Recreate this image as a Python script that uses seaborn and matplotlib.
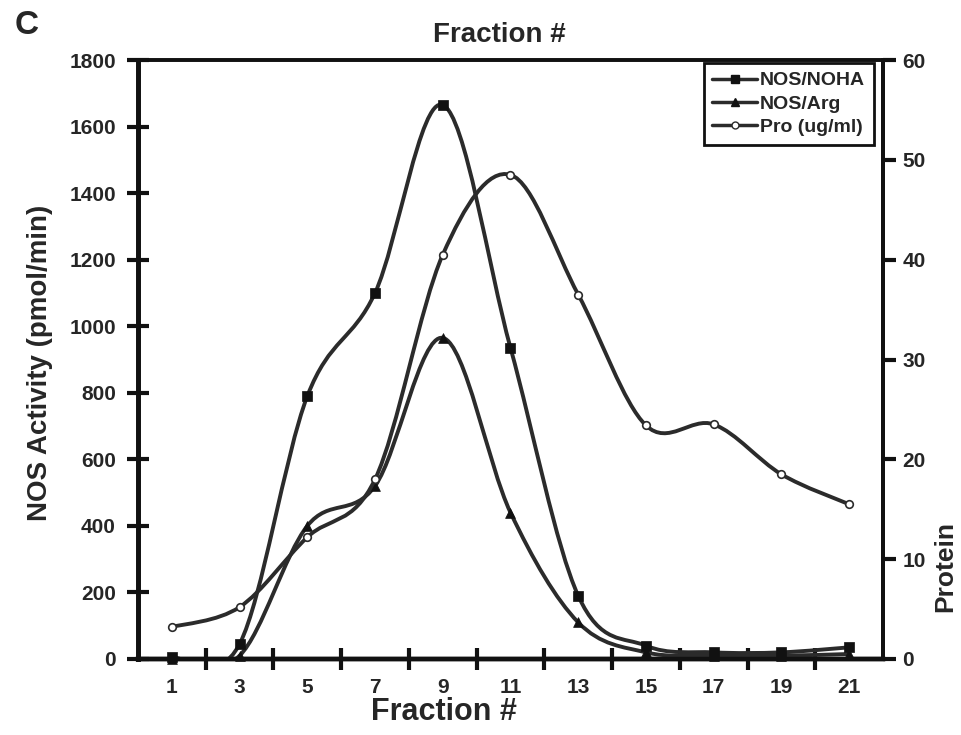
import numpy as np
import matplotlib
matplotlib.use('Agg')
import matplotlib.pyplot as plt
from matplotlib.path import Path
from matplotlib.patches import PathPatch
from matplotlib.lines import Line2D
import seaborn as sns

# data (fractions 1..21, odd only)
fractions = [1, 3, 5, 7, 9, 11, 13, 15, 17, 19, 21]
nos_noha = [5, 45, 790, 1100, 1665, 935, 190, 40, 20, 20, 35]
nos_arg = [0, 10, 400, 520, 965, 440, 110, 20, 10, 10, 15]
protein = [3.2, 5.2, 12.2, 18.0, 40.5, 48.5, 36.5, 23.4, 23.5, 18.5, 15.5]

sns.set_theme(style='ticks')
plt.rcParams['font.family'] = ['Liberation Sans', 'DejaVu Sans']
plt.rcParams['font.weight'] = 'bold'

line_col = '#2b2b2b'
mark_col = '#111111'


def smooth_path(x, y):
    # excel-style smoothed line: cubic bezier through the points
    pts = np.column_stack([x, y]).astype(float)
    n = len(pts)
    verts = [pts[0]]
    codes = [Path.MOVETO]
    for i in range(n - 1):
        p0 = pts[max(i - 1, 0)]
        p1 = pts[i]
        p2 = pts[i + 1]
        p3 = pts[min(i + 2, n - 1)]
        verts += [p1 + (p2 - p0) / 6.0, p2 - (p3 - p1) / 6.0, p2]
        codes += [Path.CURVE4] * 3
    return Path(verts, codes)


fig = plt.figure(figsize=(9.62, 7.35), dpi=100)
ax = fig.add_axes([138 / 962, 1 - 659 / 735, (883 - 138) / 962, (659 - 60) / 735])
ax2 = ax.twinx()

# NOS curves on left axis
for vals, mk in [(nos_noha, 's'), (nos_arg, '^')]:
    ax.add_patch(PathPatch(smooth_path(fractions, vals), fill=False,
                           edgecolor=line_col, lw=2.8, zorder=3))
    sns.scatterplot(x=fractions, y=vals, marker=mk, color=mark_col,
                    edgecolor=mark_col, s=50, linewidth=0.5, ax=ax, zorder=4,
                    legend=False, clip_on=False)

# protein on right axis
ax2.add_patch(PathPatch(smooth_path(fractions, protein), fill=False,
                        edgecolor=line_col, lw=2.8, zorder=3))
sns.scatterplot(x=fractions, y=protein, marker='o', color='white',
                edgecolor=line_col, s=30, linewidth=1.2, ax=ax2, zorder=4,
                legend=False)

ax.set_xlim(0, 22)
ax.set_ylim(0, 1800)
ax2.set_ylim(0, 60)

# x ticks: marks at even fractions, labels at odd ones
ax.set_xticks(range(2, 21, 2), labels=[''] * 10)
ax.set_xticks(fractions, labels=[str(f) for f in fractions], minor=True)
ax.tick_params(axis='x', which='major', direction='inout', length=16, width=3,
               color='#111')
ax.tick_params(axis='x', which='minor', length=0, pad=14, labelsize=15)
ax.set_yticks(range(0, 1801, 200))
ax.tick_params(axis='y', direction='inout', length=16, width=3, color='#111',
               labelsize=15, pad=8)
ax2.set_yticks(range(0, 61, 10))
ax2.tick_params(axis='y', direction='out', length=9, width=3, color='#111',
                labelsize=15, pad=5)

for a in (ax, ax2):
    for side, w in [('left', 3.4), ('bottom', 3.2), ('top', 2.6), ('right', 2.8)]:
        a.spines[side].set_linewidth(w)
        a.spines[side].set_color('#111')
        a.spines[side].set_visible(True)
ax.set_xlabel('')
ax.set_ylabel('')
ax2.set_ylabel('')

# texts
fig.text(27 / 962, 1 - 25 / 735, 'C', fontsize=24, ha='center', va='center')
fig.text(499 / 962, 1 - 35 / 735, 'Fraction #', fontsize=20, ha='center',
         va='center')
fig.text(444 / 962, 1 - 712 / 735, 'Fraction #', fontsize=22, ha='center',
         va='center')
fig.text(40 / 962, 1 - 363 / 735, 'NOS Activity (pmol/min)', fontsize=20,
         rotation=90, ha='center', va='center')
fig.text(945 / 962, 1 - 567 / 735, 'Protein', fontsize=19, rotation=90,
         ha='center', va='center')

handles = [
    Line2D([], [], color=line_col, lw=2.5, marker='s', markersize=6,
           markerfacecolor=mark_col, markeredgecolor=mark_col),
    Line2D([], [], color=line_col, lw=2.5, marker='^', markersize=6,
           markerfacecolor=mark_col, markeredgecolor=mark_col),
    Line2D([], [], color=line_col, lw=2.5, marker='o', markersize=5,
           markerfacecolor='white', markeredgecolor=line_col),
]
leg = ax2.legend(handles, ['NOS/NOHA', 'NOS/Arg', 'Pro (ug/ml)'],
                 loc='upper right', bbox_to_anchor=(874 / 962, 1 - 63 / 735),
                 bbox_transform=fig.transFigure, fontsize=14, frameon=True,
                 fancybox=False, framealpha=1, edgecolor='#111',
                 handlelength=2.3, handletextpad=0.15, labelspacing=0.3,
                 borderpad=0.45, borderaxespad=0)
leg.get_frame().set_linewidth(2)

fig.savefig('out.png', dpi=100, facecolor='white')
